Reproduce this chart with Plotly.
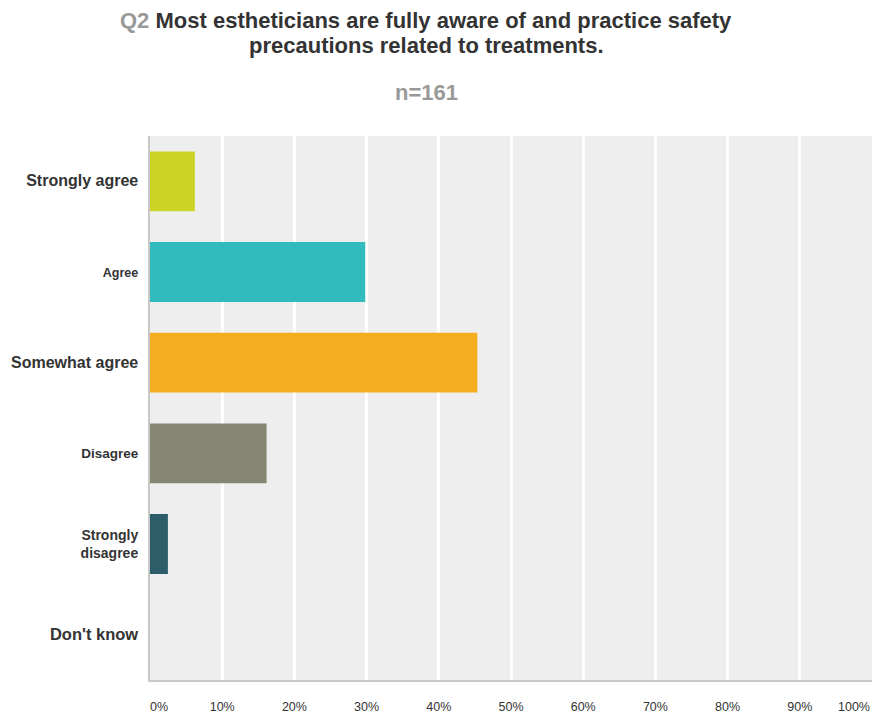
import plotly.graph_objects as go

categories = ["Strongly agree", "Agree", "Somewhat agree", "Disagree", "Strongly<br>disagree", "Don't know"]
label_sizes = [16, 12.5, 16, 13.5, 14, 16.5]
values = [6.21, 29.81, 45.34, 16.15, 2.48, 0.0]
colors = ["#CDD325", "#32BBBD", "#F4AD1E", "#878673", "#2D5D69", "#7A7A7A"]
tick_vals = [10, 20, 30, 40, 50, 60, 70, 80, 90]
tick_text = ["10%", "20%", "30%", "40%", "50%", "60%", "70%", "80%", "90%"]
first_tick, first_text = [0], ["0%"]
last_tick, last_text = [100], ["100%"]

FONT = "Liberation Sans, Arial, sans-serif"

W, H = 874, 719
ML, MR, MT, MB = 150, 2, 136, 39
PW, PH = W - ML - MR, H - MT - MB


def px_x(x):
    return (x - ML) / PW


def px_y(y):
    return (H - MB - y) / PH


fig = go.Figure(go.Bar(
    y=categories, x=values, orientation="h",
    marker=dict(color=colors, line=dict(width=0)),
    width=0.66,
))

tickfont = dict(size=12.5, color="#333333", family=FONT)
edge_axis = dict(range=[0, 100], overlaying="x", anchor="y", side="bottom", showgrid=False,
                 zeroline=False, showline=False, ticks="", ticklabelstandoff=17,
                 automargin=False, tickfont=tickfont, fixedrange=True)

fig.update_layout(
    width=W, height=H,
    margin=dict(l=ML, r=MR, t=MT, b=MB, autoexpand=False),
    plot_bgcolor="#EEEEEE", paper_bgcolor="white",
    showlegend=False,
    font=dict(family=FONT, color="#333333"),
    xaxis=dict(range=[0, 100], tickvals=tick_vals, ticktext=tick_text,
               showgrid=True, gridcolor="white", gridwidth=2.5,
               zeroline=False, showline=True, linecolor="#C8C8C8", linewidth=2,
               ticks="", ticklabelstandoff=14, automargin=False,
               tickfont=tickfont, fixedrange=True),
    xaxis2=dict(edge_axis, tickvals=first_tick, ticktext=first_text, ticklabelposition="outside right"),
    xaxis3=dict(edge_axis, tickvals=last_tick, ticktext=last_text, ticklabelposition="outside left",
                ticklabelshift=-2),
    yaxis=dict(autorange="reversed", showgrid=False, zeroline=False,
               showline=True, linecolor="#C8C8C8", linewidth=2,
               ticks="", ticklabelstandoff=7, automargin=False,
               tickvals=categories,
               ticktext=[f"<span style='font-size:{s}px'>{c}</span>" for c, s in zip(categories, label_sizes)],
               tickfont=dict(size=14, color="#333333", family=FONT, weight="bold"), fixedrange=True),
    annotations=[
        dict(x=px_x(426), y=px_y(20), xref="paper", yref="paper", xanchor="center", yanchor="middle",
             showarrow=False,
             text="<span style='color:#999999'>Q2</span> Most estheticians are fully aware of and practice safety",
             font=dict(size=22, color="#333333", family=FONT, weight="bold")),
        dict(x=px_x(426), y=px_y(46), xref="paper", yref="paper", xanchor="center", yanchor="middle",
             showarrow=False,
             text="precautions related to treatments.",
             font=dict(size=22, color="#333333", family=FONT, weight="bold")),
        dict(x=px_x(426), y=px_y(93), xref="paper", yref="paper", xanchor="center", yanchor="middle",
             showarrow=False, text="n=161",
             font=dict(size=22, color="#999999", family=FONT, weight="bold")),
    ],
)

# invisible traces so the edge-label axes are drawn
fig.add_trace(go.Scatter(x=[None], y=[None], xaxis="x2", yaxis="y", showlegend=False, hoverinfo="skip"))
fig.add_trace(go.Scatter(x=[None], y=[None], xaxis="x3", yaxis="y", showlegend=False, hoverinfo="skip"))

fig.write_html("out.html", config={"displayModeBar": False},
               post_script="document.body.style.margin='0';")
